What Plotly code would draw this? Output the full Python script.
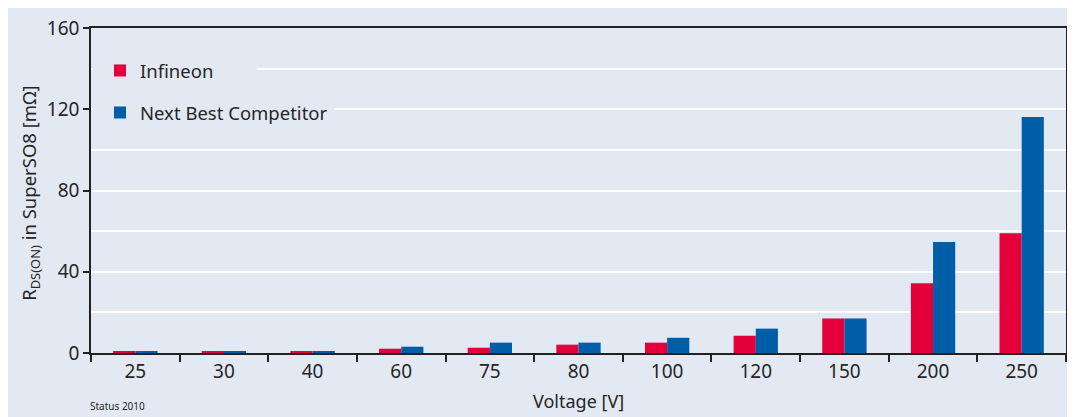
import plotly.graph_objects as go

voltages = ["25", "30", "40", "60", "75", "80", "100", "120", "150", "200", "250"]
infineon = [1.0, 1.0, 0.8, 2.1, 2.6, 4.1, 5.1, 8.5, 17.0, 34.3, 59.0]
competitor = [1.0, 1.0, 1.0, 3.1, 5.1, 5.1, 7.5, 12.0, 17.0, 54.6, 116.2]
series_names = ["Infineon", "Next Best Competitor"]
y_ticks = [0, 40, 80, 120, 160]

RED = "#E4003A"
BLUE = "#005DA8"
BG = "#E3E9F3"
FONT = "Noto Sans"
TXT = "#262626"

fig = go.Figure()
fig.add_trace(go.Bar(x=voltages, y=infineon, name=series_names[0], marker_color=RED,
                     marker_line_width=0, legendgroup="a"))
fig.add_trace(go.Bar(x=voltages, y=competitor, name=series_names[1], marker_color=BLUE,
                     marker_line_width=0, legendgroup="b"))

# page offset (body margin) is 8px; screen coords of plot area:
OFF = 8
SL, SR, ST, SB = 91, 1068, 27, 353
W, H = 1067, 409
L, T = SL - OFF, ST - OFF
R = W - (SR - OFF)
B = H - (SB - OFF)
pw, ph = SR - SL, SB - ST

def px_x(p):
    return (p - SL) / pw

def px_y(p):
    return (SB - p) / ph

shapes = [
    dict(type="rect", xref="paper", yref="y", x0=0.002, x1=px_x(257),
         y0=136, y1=144, fillcolor=BG, line_width=0, layer="above"),
    dict(type="rect", xref="paper", yref="y", x0=0.002, x1=px_x(335),
         y0=116, y1=124, fillcolor=BG, line_width=0, layer="above"),
]

fig.update_layout(
    width=W, height=H,
    margin=dict(l=L, r=R, t=T, b=B),
    paper_bgcolor=BG,
    plot_bgcolor=BG,
    barmode="group",
    bargap=0.5,
    bargroupgap=0,
    font=dict(family=FONT, size=18, color=TXT),
    showlegend=True,
    legend=dict(x=px_x(100), y=px_y(51), xanchor="left", yanchor="top",
                bgcolor="rgba(0,0,0,0)", font=dict(size=18.5, color=TXT),
                tracegroupgap=15, traceorder="grouped"),
    shapes=shapes,
    xaxis=dict(
        type="category",
        showline=True, linecolor="#222", linewidth=1.5, mirror=True,
        ticks="outside", tickson="boundaries", ticklen=7, tickcolor="#222", tickwidth=1.5,
        tickfont=dict(size=19, color=TXT),
        showgrid=False,
    ),
    yaxis=dict(
        range=[0, 160],
        tickvals=y_ticks,
        showline=True, linecolor="#222", linewidth=1.5, mirror=True,
        ticks="outside", ticklen=6, tickcolor="#222", tickwidth=1.5,
        tickfont=dict(size=19, color=TXT),
        showgrid=True, gridcolor="white", gridwidth=1.5,
        minor=dict(dtick=20, showgrid=True, gridcolor="white", gridwidth=1.5, ticks=""),
        zeroline=False,
    ),
    annotations=[
        dict(text="Voltage [V]", xref="paper", yref="paper", x=0.5, y=px_y(401),
             xanchor="center", yanchor="middle", showarrow=False,
             font=dict(size=18, color=TXT)),
        dict(text="R<sub>DS(ON)</sub> in SuperSO8 [mΩ]", xref="paper", yref="paper",
             x=px_x(30), y=0.49, xanchor="center", yanchor="middle", textangle=-90,
             showarrow=False, font=dict(size=18.5, color=TXT)),
        dict(text="Status 2010", xref="paper", yref="paper", x=px_x(88), y=px_y(406),
             xanchor="left", yanchor="middle", showarrow=False,
             font=dict(size=10, color=TXT)),
    ],
)

fig.write_html("out.html")
